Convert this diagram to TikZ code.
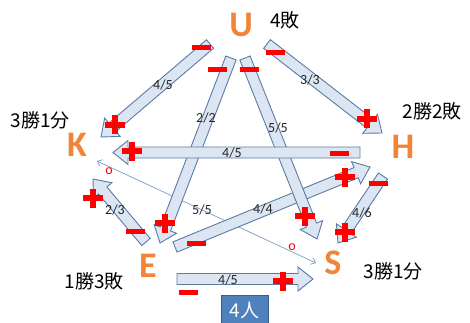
\documentclass[tikz,border=0pt]{standalone}
\usepackage{fontspec}
\setmainfont{Carlito}
\newfontfamily\jpfont{Noto Sans CJK JP}
\usetikzlibrary{calc,arrows.meta}
\definecolor{afill}{HTML}{DCE6F2}
\definecolor{aline}{HTML}{5A7AA6}
\definecolor{thinline}{HTML}{7C9CC6}
\definecolor{lorange}{HTML}{F2843A}
\definecolor{sred}{HTML}{FF0000}
\definecolor{boxblue}{HTML}{4F81BD}
\definecolor{boxedge}{HTML}{385D8A}
\newcommand\blockarr[2]{%
  \pgfpointdiff{\pgfpointanchor{#1}{center}}{\pgfpointanchor{#2}{center}}%
  \pgfgetlastxy{\bdx}{\bdy}%
  \pgfmathsetmacro\blen{veclen(\bdx,\bdy)}%
  \pgfmathsetmacro\bhb{\blen-15}%
  \pgfmathsetmacro\bang{atan2(\bdy,\bdx)}%
  \begin{scope}[shift={(#1)},rotate=\bang]
    \draw[blockst] (0pt,-5.5pt) -- (\bhb pt,-5.5pt) -- (\bhb pt,-12pt) -- (\blen pt,0pt)
      -- (\bhb pt,12pt) -- (\bhb pt,5.5pt) -- (0pt,5.5pt) -- cycle;
  \end{scope}}
\tikzset{
  blockst/.style={draw=aline,fill=afill,line width=0.9pt,line join=miter},
  plussign/.pic={\draw[sred,line width=5.5pt] (-10pt,0pt)--(10pt,0pt) (0pt,-9.5pt)--(0pt,9.5pt);},
  minussign/.pic={\draw[sred,line width=5pt] (-9.5pt,0pt)--(9.5pt,0pt);},
  letter/.style={text=lorange,font=\bfseries\fontsize{36}{36}\selectfont,inner sep=0pt},
  record/.style={font=\jpfont\fontsize{19}{19}\selectfont,inner sep=0pt},
  ratio/.style={font=\fontsize{14}{14}\selectfont,text=black!85,inner sep=0pt},
  omark/.style={font=\fontsize{14}{14}\selectfont,text=sred,inner sep=0pt},
  thinarr/.style={draw=thinline,line width=0.7pt,{Straight Barb[length=4pt,width=7pt]}-{Straight Barb[length=4pt,width=7pt]}},
}
\begin{document}
\begin{tikzpicture}[x=1pt,y=-1pt]
\useasboundingbox (0,0) rectangle (470,323);
% letters
\node[letter] (U) at (241,25) {U};
\node[letter] (K) at (77,145) {K};
\node[letter] (H) at (403,147) {H};
\node[letter] (E) at (148,266) {E};
\node[letter] (S) at (333,263) {S};
% records
\node[record] (rU) at (285,20) {4敗};
\node[record] (rK) at (40,120) {3勝1分};
\node[record] (rH) at (432,111) {2勝2敗};
\node[record] (rE) at (94,281) {1勝3敗};
\node[record] (rS) at (393,271) {3勝1分};
% arrow ends
\coordinate (ukT) at (210,44);  \coordinate (ukH) at (101,137);
\coordinate (ueT) at (231,58);  \coordinate (ueH) at (160,243);
\coordinate (usT) at (245,58);  \coordinate (usH) at (317,239);
\coordinate (uhT) at (267,44);  \coordinate (uhH) at (382,133);
\coordinate (hkT) at (360,152.5); \coordinate (hkH) at (113,152.5);
\coordinate (ehT) at (175,247); \coordinate (ehH) at (370,167);
\coordinate (hsT) at (383,176); \coordinate (hsH) at (338,243);
\coordinate (ekT) at (146,242); \coordinate (ekH) at (93,179);
\coordinate (esT) at (177,279); \coordinate (esH) at (313,279);
\coordinate (ksA) at (97,161);  \coordinate (ksB) at (316,263);
% thin K-S line
\draw[thinarr] (ksA) -- (ksB);
% block arrows
\blockarr{ueT}{ueH}
\blockarr{ehT}{ehH}
\blockarr{usT}{usH}
\blockarr{hkT}{hkH}
\blockarr{ukT}{ukH}
\blockarr{uhT}{uhH}
\blockarr{hsT}{hsH}
\blockarr{ekT}{ekH}
\blockarr{esT}{esH}
% ratios
\node[ratio] (lUK) at (163,85) {4/5};
\node[ratio] (lUE) at (206,118) {2/2};
\node[ratio] (lUS) at (278,128) {5/5};
\node[ratio] (lUH) at (310,80) {3/3};
\node[ratio] (lHK) at (232,153) {4/5};
\node[ratio] (lEH) at (263,209) {4/4};
\node[ratio] (lHS) at (362,213) {4/6};
\node[ratio] (lEK) at (115,210) {2/3};
\node[ratio] (lES) at (228,280) {4/5};
\node[ratio] (lKS) at (202,210) {5/5};
\node[omark] (oK) at (109,171) {o};
\node[omark] (oS) at (292,247) {o};
% signs
\pic at (201,48) {minussign};
\pic at (217,70) {minussign};
\pic at (249,70) {minussign};
\pic at (275,53) {minussign};
\pic at (339,153) {minussign};
\pic at (196,243) {minussign};
\pic at (378,183) {minussign};
\pic at (135,231) {minussign};
\pic at (188,292) {minussign};
\pic at (115,125) {plussign};
\pic at (165,223) {plussign};
\pic at (305,216) {plussign};
\pic at (367,119) {plussign};
\pic at (132,151) {plussign};
\pic at (345,177) {plussign};
\pic at (345,232) {plussign};
\pic at (93,198) {plussign};
\pic at (283,281) {plussign};
% box
\node[draw=boxedge,fill=boxblue,line width=0.8pt,minimum width=47pt,minimum height=30pt,inner sep=0pt,
  text=white,font=\jpfont\fontsize{19}{19}\selectfont,anchor=north] (box) at (244.5,295) {4人};
\end{tikzpicture}
\end{document}
